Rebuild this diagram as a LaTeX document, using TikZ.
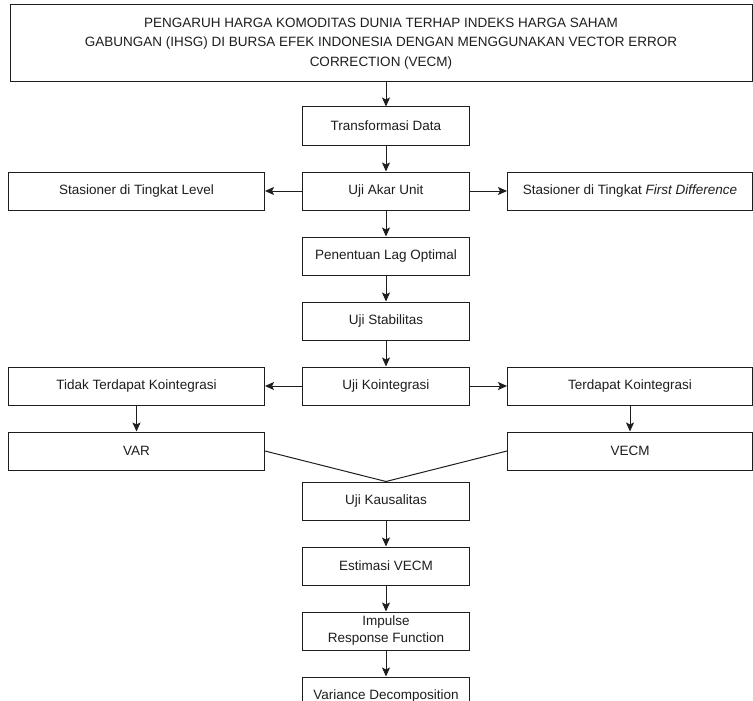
\documentclass[tikz,border=0pt]{standalone}
\usepackage{fontspec}
\setmainfont{Liberation Sans}
\usetikzlibrary{positioning, arrows.meta}
\definecolor{flowink}{RGB}{30, 30, 30}
\tikzset{
  flowBox/.style={
    draw=flowink,
    line width=1pt,
    fill=white,
    rectangle,
    minimum width=167pt,
    minimum height=38pt,
    inner sep=2pt,
    align=center,
    font=\fontsize{13.5}{17}\selectfont\color{flowink}
  },
  sideLeft/.style={
    flowBox,
    minimum width=256pt
  },
  sideRight/.style={
    flowBox,
    minimum width=245pt
  },
  titleBox/.style={
    flowBox,
    minimum width=742pt,
    minimum height=77pt,
    font=\fontsize{13.5}{19.5}\selectfont\color{flowink}
  },
  every edge/.style={
    ->,
    >={Stealth[length=9pt, width=8pt, inset=2pt]},
    line width=1pt,
    draw=flowink
  }
}

\begin{document}
\begin{tikzpicture}[node distance=26pt and 37pt]
      \useasboundingbox (0,0) rectangle (753pt,-701pt);

      \node[titleBox] (title) at (381pt,-43.5pt)
        {PENGARUH HARGA KOMODITAS DUNIA TERHAP INDEKS HARGA SAHAM\\
         GABUNGAN (IHSG) DI BURSA EFEK INDONESIA DENGAN MENGGUNAKAN VECTOR ERROR\\
         CORRECTION (VECM)};
      \node[flowBox] (trans) at (386pt,-126pt) {Transformasi Data};
      \node[flowBox] (akar) [below=of trans] {Uji Akar Unit};
      \node[sideLeft] (level) [left=of akar] {Stasioner di Tingkat Level};
      \node[sideRight] (diff) [right=of akar] {Stasioner di Tingkat \textit{First Difference}};
      \node[flowBox] (lag) [below=of akar] {Penentuan Lag Optimal};
      \node[flowBox] (stab) [below=of lag] {Uji Stabilitas};
      \node[flowBox] (koin) [below=of stab] {Uji Kointegrasi};
      \node[sideLeft] (tidak) [left=of koin] {Tidak Terdapat Kointegrasi};
      \node[sideRight] (ada) [right=of koin] {Terdapat Kointegrasi};
      \node[sideLeft] (var) [below=of tidak] {VAR};
      \node[sideRight] (vecm) [below=of ada] {VECM};
      \node[flowBox] (kaus) [below=76pt of koin] {Uji Kausalitas};
      \node[flowBox] (est) [below=of kaus] {Estimasi VECM};
      \node[flowBox] (irf) [below=of est] {Impulse\\Response Function};
      \node[flowBox] (vd) [below=of irf] {Variance Decomposition};

      \path
      (title.south -| trans.north) edge (trans)
      (trans) edge (akar)
      (akar) edge (level)
              edge (diff)
              edge (lag)
      (lag) edge (stab)
      (stab) edge (koin)
      (koin) edge (tidak)
             edge (ada)
      (tidak) edge (var)
      (ada) edge (vecm)
      (kaus) edge (est)
      (est) edge (irf)
      (irf) edge (vd);

      \draw[line width=1pt, draw=flowink] (var.east) -- (kaus.north) -- (vecm.west);
    \end{tikzpicture}
\end{document}
